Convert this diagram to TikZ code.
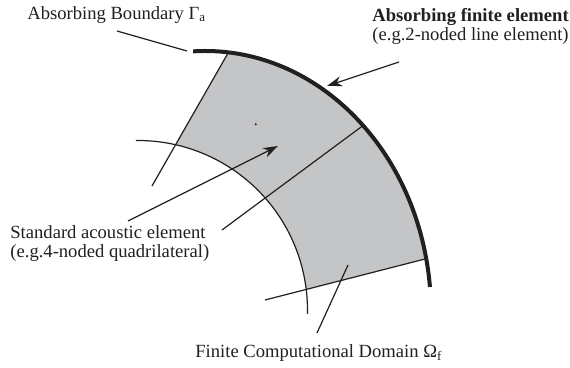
\documentclass[tikz,border=0pt]{standalone}
\usepackage{fontspec}
\setmainfont{Liberation Serif}
\usetikzlibrary{arrows.meta,positioning,calc}
\definecolor{domaingray}{RGB}{196,197,199}
\definecolor{inkblack}{RGB}{35,31,32}

\begin{document}
\begin{tikzpicture}[x=0.5pt,y=0.5pt,
    lbl/.style={inner sep=0pt,font=\fontsize{9.3}{9.6}\selectfont,align=left,text=inkblack},
    leader/.style={draw=inkblack,line width=0.6pt},
    pointer/.style={leader,-{Stealth[length=7.5pt,width=5pt]}}]
  \useasboundingbox (0,0) rectangle (570,368);
  % centres of the outer (absorbing) and inner arcs
  \coordinate (O) at (205,56);
  \coordinate (I) at (138,58);
  % element corners
  \coordinate (o1) at ($(O)+(84.05:226 and 261)$);
  \coordinate (o2) at ($(O)+(45.6:226 and 261)$);
  \coordinate (o3) at ($(O)+(11.78:226 and 261)$);
  \coordinate (i1) at ($(I)+(77.2:169.5)$);
  \coordinate (i3) at ($(I)+(7.02:169.5)$);
  \coordinate (e1) at (152,182);
  \coordinate (e2) at (222,138);
  \coordinate (e3) at (265,68);

  % computational domain
  \fill[domaingray] (o1) arc[start angle=84.05,end angle=11.78,x radius=226,y radius=261]
    -- (i3) arc[start angle=7.02,end angle=77.2,radius=169.5] -- cycle;
  \draw[leader] ($(I)+(90.7:169.5)$) arc[start angle=90.7,end angle=-1.35,radius=169.5];
  \draw[leader] (o1) -- (e1);
  \draw[leader] (o2) -- (e2);
  \draw[leader] (o3) -- (e3);
  \fill[inkblack] (255.7,243.7) circle[radius=1.1];

  % absorbing boundary
  \coordinate (ab) at ($(O)+(93:226 and 261)$);
  \draw[inkblack,line width=2pt] (ab) arc[start angle=93,end angle=5.5,x radius=226,y radius=261];

  % labels
  \node[lbl,anchor=base west] (bnd) at (27,348) {Absorbing Boundary Γ\textsubscript{a}};
  \coordinate (bndfoot) at (117,337);
  \coordinate (bndend) at (187,317);
  \draw[leader] (bndfoot) -- (bndend);

  \node[lbl,anchor=base west] (afe) at (372,327) {\textbf{Absorbing finite element}\\(e.g.2-noded line element)};
  \coordinate (afetail) at (399,306);
  \coordinate (afetip) at (327,282);
  \draw[pointer] (afetail) -- (afetip);

  \node[lbl,anchor=base west] (sae) at (10,110) {Standard acoustic element\\(e.g.4-noded quadrilateral)};
  \coordinate (saetail) at (128,147);
  \coordinate (saetip) at (278,222);
  \draw[pointer] (saetail) -- (saetip);

  \node[lbl,anchor=base west] (fcd) at (195,10) {Finite Computational Domain Ω\textsubscript{f}};
  \coordinate (fcdfoot) at (317,35);
  \coordinate (fcdend) at (348,103);
  \draw[leader] (fcdfoot) -- (fcdend);
\end{tikzpicture}
\end{document}
